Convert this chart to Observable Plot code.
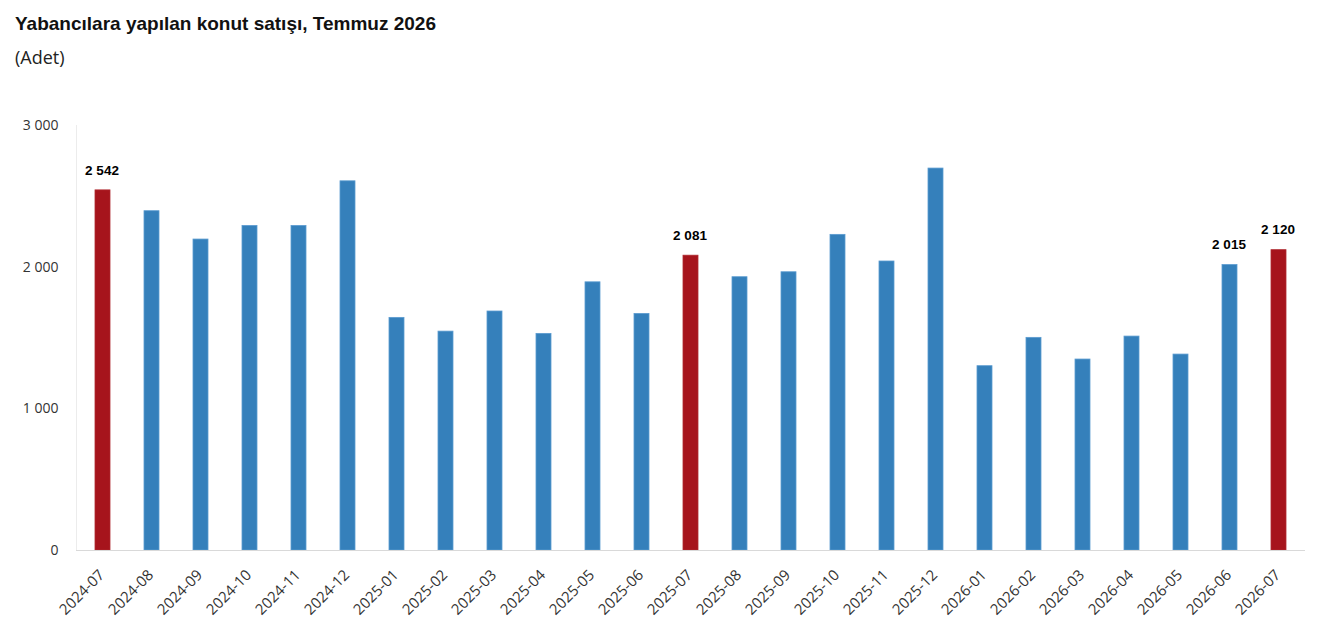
<!DOCTYPE html>
<html>
<head>
<meta charset="utf-8">
<script src="https://cdn.jsdelivr.net/npm/d3@7"></script>
<script src="https://cdn.jsdelivr.net/npm/@observablehq/plot@0.6"></script>
<style>
  body { margin: 0; background: #fff; }
  #header { position: relative; height: 80px; }
  #title { position: absolute; left: 15px; top: 13px; font-family: "Liberation Sans", Arial, sans-serif; font-weight: bold; font-size: 19px; color: #111; line-height: 1.2; }
  #subtitle { position: absolute; left: 15px; top: 47px; font-family: "Open Sans", sans-serif; font-size: 18px; color: #222; line-height: 1.2; }
</style>
</head>
<body>
<div id="header">
  <div id="title">Yabancılara yapılan konut satışı, Temmuz 2026</div>
  <div id="subtitle">(Adet)</div>
</div>
<div id="chart"></div>
<script>
const months = ["2024-07","2024-08","2024-09","2024-10","2024-11","2024-12","2025-01","2025-02","2025-03","2025-04","2025-05","2025-06","2025-07","2025-08","2025-09","2025-10","2025-11","2025-12","2026-01","2026-02","2026-03","2026-04","2026-05","2026-06","2026-07"];
const values = [2542, 2395, 2195, 2291, 2291, 2606, 1642, 1545, 1687, 1529, 1893, 1670, 2081, 1929, 1964, 2228, 2040, 2696, 1301, 1501, 1348, 1510, 1383, 2015, 2120];
const highlighted = ["2024-07","2025-07","2026-07"];
const labelled = ["2024-07","2025-07","2026-06","2026-07"];
const yTicks = [0, 1000, 2000, 3000];

const data = months.map((m, i) => ({month: m, value: values[i]}));
const fmt = d => d3.format(",")(d).replace(/,/g, " ");

const chart = Plot.plot({
  width: 1317,
  height: 552,
  marginLeft: 76,
  marginRight: 12,
  marginTop: 45,
  marginBottom: 82,
  style: {fontFamily: "'Open Sans', sans-serif", background: "#fff"},
  x: {domain: months, paddingInner: 0.69, paddingOuter: 0.345, label: null},
  y: {domain: [0, 3000], label: null},
  marks: [
    Plot.frame({anchor: "left", stroke: "#ececec"}),
    Plot.barY(data, {x: "month", y: "value", fill: d => highlighted.includes(d.month) ? "#a6141c" : "#3580bb", stroke: d => highlighted.includes(d.month) ? "#b02a30" : "#5b9bd0", strokeWidth: 0.8}),
    Plot.ruleY([0], {stroke: "#d9d9d9", strokeWidth: 1.2}),
    Plot.text(data.filter(d => labelled.includes(d.month)), {x: "month", y: "value", text: d => fmt(d.value), dy: -20, dx: -1, fontWeight: "bold", fontSize: 13.5, fontFamily: "'Liberation Sans', Arial, sans-serif", fill: "#000"}),
    Plot.axisY({ticks: yTicks, tickFormat: fmt, tickSize: 0, tickPadding: 18, fontSize: 14, fill: "#333", label: null}),
    Plot.axisX({tickRotate: -45, tickSize: 0, tickPadding: 12, dy: 10, dx: -1, fontSize: 15, fill: "#333", label: null})
  ]
});
document.getElementById("chart").appendChild(chart);
</script>
</body>
</html>
